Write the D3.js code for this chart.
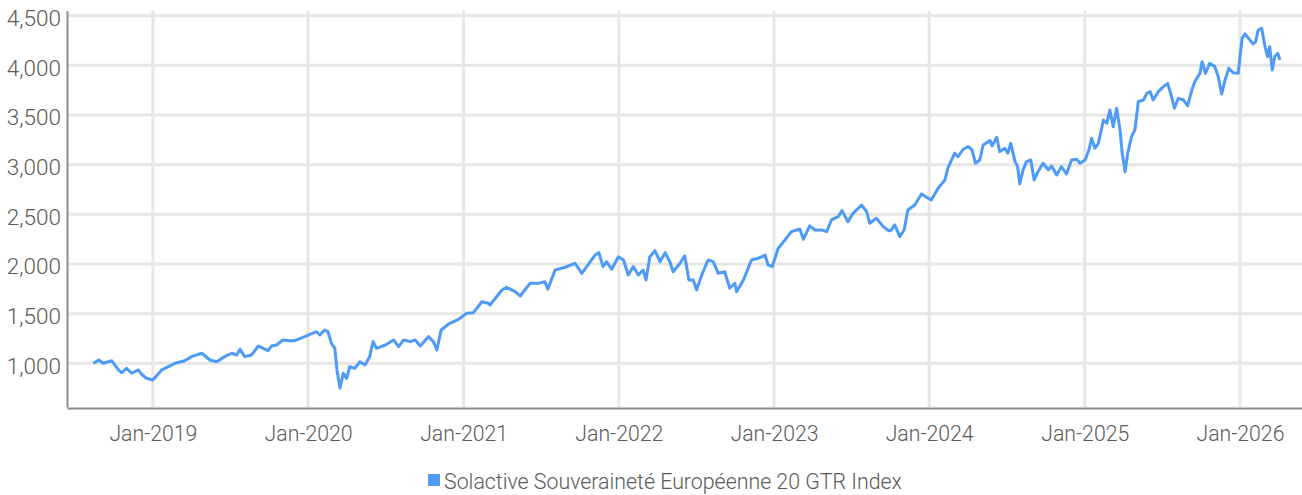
<!DOCTYPE html>
<html>
<head>
<meta charset="utf-8">
<script src="https://cdnjs.cloudflare.com/ajax/libs/d3/7.8.5/d3.min.js"></script>
<style>
    body { margin: 0; background: #fff; }
    text { font-family: Roboto, "Noto Sans", sans-serif; font-weight: 300; fill: #5a5a5a; }
</style>
</head>
<body>
<div id="chart"></div>
<script>
// Index levels
const dates = [
    "2018-08-14","2018-08-27","2018-09-06","2018-09-26","2018-10-12","2018-10-20","2018-10-31","2018-11-12","2018-11-28","2018-12-05","2018-12-17",
    "2019-01-01","2019-01-22","2019-02-22","2019-03-17","2019-04-02","2019-04-26","2019-05-15","2019-05-31","2019-06-19","2019-07-05","2019-07-17","2019-07-25",
    "2019-08-05","2019-08-21","2019-09-06","2019-09-29","2019-10-07","2019-10-19","2019-11-03","2019-11-17","2019-12-01","2019-12-24",
    "2020-01-21","2020-01-29","2020-02-09","2020-02-17","2020-02-25","2020-03-04","2020-03-09","2020-03-16","2020-03-24","2020-04-01","2020-04-08","2020-04-20",
    "2020-05-02","2020-05-14","2020-05-25","2020-06-02","2020-06-10","2020-07-01","2020-07-20","2020-08-01","2020-08-13","2020-08-29","2020-09-09","2020-09-21",
    "2020-10-10","2020-10-22","2020-10-30","2020-11-09","2020-11-27","2020-12-20",
    "2021-01-08","2021-01-24","2021-02-13","2021-02-28","2021-03-04","2021-04-01","2021-04-12","2021-05-02","2021-05-14","2021-06-06","2021-06-26","2021-07-11",
    "2021-07-18","2021-08-04","2021-08-28","2021-09-20","2021-10-06","2021-11-06","2021-11-15","2021-11-25","2021-12-03","2021-12-15","2021-12-31",
    "2022-01-12","2022-01-23","2022-02-04","2022-02-16","2022-02-27","2022-03-06","2022-03-15","2022-03-27","2022-04-08","2022-04-20","2022-05-01","2022-05-09",
    "2022-05-25","2022-06-05","2022-06-15","2022-06-25","2022-07-03","2022-07-15","2022-07-30","2022-08-11","2022-08-23","2022-09-07","2022-09-19","2022-10-01",
    "2022-10-05","2022-10-21","2022-10-29","2022-11-09","2022-11-25","2022-12-11","2022-12-18","2022-12-28",
    "2023-01-11","2023-01-27","2023-02-11","2023-02-23","2023-03-03","2023-03-11","2023-03-26","2023-04-07","2023-04-23","2023-05-05","2023-05-16","2023-06-01",
    "2023-06-10","2023-06-24","2023-07-06","2023-07-26","2023-08-07","2023-08-14","2023-08-30","2023-09-15","2023-09-28","2023-10-04","2023-10-12","2023-10-24",
    "2023-11-03","2023-11-12","2023-11-28","2023-12-14","2023-12-26",
    "2024-01-06","2024-01-22","2024-02-07","2024-02-14","2024-03-01","2024-03-09","2024-03-21","2024-04-02","2024-04-11","2024-04-19","2024-04-29","2024-05-07",
    "2024-05-23","2024-05-28","2024-06-08","2024-06-15","2024-06-27","2024-07-04","2024-07-11","2024-07-21","2024-07-27","2024-08-01","2024-08-09","2024-08-17",
    "2024-08-27","2024-09-04","2024-09-13","2024-09-25","2024-10-07","2024-10-15","2024-10-27","2024-11-07","2024-11-19","2024-12-01","2024-12-13","2024-12-21",
    "2025-01-02","2025-01-11","2025-01-17","2025-01-25","2025-02-02","2025-02-14","2025-02-22","2025-03-01","2025-03-09","2025-03-17","2025-03-25","2025-03-30",
    "2025-04-06","2025-04-12","2025-04-21","2025-04-29","2025-05-07","2025-05-19","2025-05-27","2025-06-04","2025-06-11","2025-06-23","2025-07-05","2025-07-15",
    "2025-07-23","2025-07-31","2025-08-09","2025-08-21","2025-08-31","2025-09-10","2025-09-17","2025-09-29","2025-10-04","2025-10-12","2025-10-22","2025-11-03",
    "2025-11-11","2025-11-19","2025-11-27","2025-12-06","2025-12-16","2025-12-28",
    "2026-01-06","2026-01-13","2026-01-24","2026-02-01","2026-02-07","2026-02-13","2026-02-21","2026-03-01","2026-03-07","2026-03-12","2026-03-18","2026-03-24",
    "2026-03-31","2026-04-05"
];

const values = [
    1000,1033,1000,1026,933,905,950,900,933,892,849,
    832,933,1000,1026,1067,1101,1033,1016,1067,1101,1084,1141,
    1067,1084,1174,1127,1174,1184,1235,1228,1228,1268,
    1318,1285,1335,1318,1201,1151,933,750,900,849,966,950,
    1016,983,1067,1218,1151,1184,1235,1168,1235,1218,1235,1174,
    1268,1218,1134,1335,1396,1443,
    1503,1510,1620,1604,1587,1738,1765,1721,1678,1805,1805,1822,
    1745,1939,1967,2007,1906,2090,2114,1973,2023,1947,2073,
    2040,1889,1973,1889,1939,1839,2073,2134,2023,2114,2023,1922,
    2007,2081,1839,1839,1738,1889,2040,2023,1906,1922,1755,1806,
    1721,1839,1922,2040,2057,2090,1990,1973,
    2158,2242,2325,2342,2349,2249,2383,2342,2342,2325,2443,2476,
    2537,2426,2510,2594,2527,2410,2460,2376,2335,2342,2393,2275,
    2342,2544,2594,2705,2672,
    2644,2762,2846,2964,3115,3080,3155,3181,3148,3014,3047,3198,
    3242,3188,3276,3131,3165,3115,3215,3030,2980,2806,2947,3030,
    3047,2846,2929,3014,2947,2987,2896,2980,2906,3047,3054,3014,
    3050,3150,3265,3165,3215,3450,3417,3551,3383,3568,3349,3115,
    2929,3115,3282,3349,3634,3651,3718,3735,3651,3735,3785,3819,
    3702,3568,3668,3651,3591,3752,3836,3920,4037,3920,4020,3987,
    3886,3712,3853,3970,3926,3920,
    4272,4316,4256,4215,4239,4356,4373,4188,4088,4188,3953,4088,
    4121,4054
];

const yTicks = [1000, 1500, 2000, 2500, 3000, 3500, 4000, 4500];
const xTickYears = [2019, 2020, 2021, 2022, 2023, 2024, 2025, 2026];
const seriesName = "Solactive Souveraineté Européenne 20 GTR Index";

// Set the dimensions and margins
const width = 1302;
const height = 495;
const margin = {top: 10.7, right: 0, bottom: 88, left: 67};
const lineColor = "#4d9bf6";

const parseDate = d3.timeParse("%Y-%m-%d");
const data = dates.map((d, i) => ({date: parseDate(d), value: values[i]}));
const xTicks = xTickYears.map(y => new Date(y, 0, 1));

const svg = d3.select("#chart")
    .append("svg")
    .attr("width", width)
    .attr("height", height);

const x = d3.scaleTime()
    .domain([new Date(2018, 5, 13), new Date(2026, 4, 27)])
    .range([margin.left, width - margin.right]);

const y = d3.scaleLinear()
    .domain([560, 4550])
    .range([height - margin.bottom, margin.top]);

// Gridlines
const grid = svg.append("g")
    .attr("stroke", "#e6e6e6")
    .attr("stroke-width", 3);

grid.selectAll(".hgrid")
    .data(yTicks)
    .enter()
    .append("line")
    .attr("x1", margin.left)
    .attr("x2", width - margin.right)
    .attr("y1", d => y(d))
    .attr("y2", d => y(d));

grid.selectAll(".vgrid")
    .data(xTicks)
    .enter()
    .append("line")
    .attr("x1", d => x(d))
    .attr("x2", d => x(d))
    .attr("y1", margin.top)
    .attr("y2", height - margin.bottom);

// The index line
const line = d3.line()
    .x(d => x(d.date))
    .y(d => y(d.value));

svg.append("path")
    .datum(data)
    .attr("fill", "none")
    .attr("stroke", lineColor)
    .attr("stroke-width", 3)
    .attr("stroke-linejoin", "round")
    .attr("d", line);

// Y axis
const yAxis = svg.append("g")
    .attr("transform", `translate(${margin.left},0)`)
    .call(d3.axisLeft(y)
        .tickValues(yTicks)
        .tickFormat(d3.format(","))
        .tickSize(0)
        .tickPadding(6));

yAxis.selectAll("text")
    .attr("dy", "0.44em")
    .style("font-size", "22.5px");

// X axis - the source font is narrower, so squeeze labels a little
const xAxis = svg.append("g")
    .attr("transform", `translate(0,${height - margin.bottom + 1})`)
    .call(d3.axisBottom(x)
        .tickValues(xTicks)
        .tickFormat(d3.timeFormat("%b-%Y"))
        .tickSize(0)
        .tickPadding(17));

xAxis.selectAll("text")
    .style("font-size", "22.5px")
    .attr("textLength", 88)
    .attr("lengthAdjust", "spacingAndGlyphs");

svg.selectAll(".domain")
    .attr("stroke", "#8c8c8c")
    .attr("stroke-width", 2);

// Legend
const legend = svg.append("g");

legend.append("rect")
    .attr("x", 428)
    .attr("y", 474)
    .attr("width", 12)
    .attr("height", 12)
    .attr("fill", lineColor);

legend.append("text")
    .attr("x", 444)
    .attr("y", 489)
    .style("font-size", "22px")
    .attr("textLength", 458)
    .attr("lengthAdjust", "spacingAndGlyphs")
    .text(seriesName);
</script>
</body>
</html>
